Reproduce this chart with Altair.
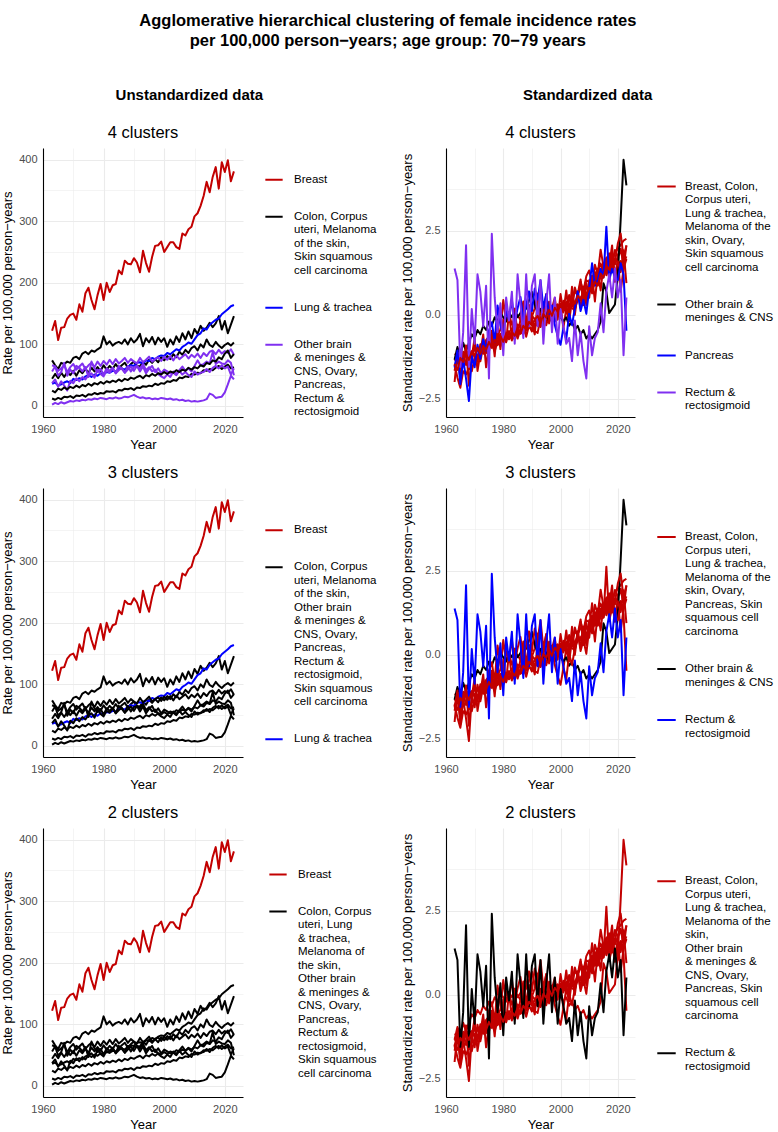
import altair as alt
import pandas as pd

FONT = "Liberation Sans"

YEARS = list(range(1963, 2024))

# Female incidence per 100,000 person-years, age 70-79, one value per year 1963-2023
BREAST = [122, 138, 107, 127, 128, 142, 148, 150, 140, 165,
          153, 183, 192, 172, 157, 180, 198, 172, 200, 185,
          196, 198, 220, 214, 236, 231, 230, 240, 233, 217,
          252, 232, 218, 242, 260, 261, 267, 250, 258, 266,
          266, 258, 255, 280, 277, 287, 291, 308, 313, 325,
          341, 364, 347, 372, 388, 353, 396, 380, 399, 365,
          381]
COLON = [74, 66, 60, 70, 68, 72, 70, 78, 80, 76,
         85, 88, 84, 90, 88, 92, 95, 113, 100, 105,
         98, 102, 104, 101, 108, 100, 110, 103, 108, 117,
         97, 110, 103, 112, 100, 111, 104, 110, 96, 108,
         100, 113, 104, 118, 108, 121, 110, 125, 117, 130,
         122, 127, 135, 128, 134, 146, 124, 138, 118, 132,
         146]
CORPUS_UTERI = [44, 52, 45, 54, 47, 55, 50, 57, 49, 58,
                53, 60, 54, 62, 56, 63, 57, 66, 59, 65,
                60, 68, 61, 66, 70, 62, 68, 72, 65, 64,
                72, 67, 75, 70, 76, 71, 79, 74, 81, 76,
                84, 79, 88, 83, 91, 86, 94, 97, 90, 100,
                95, 108, 99, 96, 104, 98, 94, 99, 102, 98,
                103]
LUNG_TRACHEA = [36, 38, 33, 35, 38, 40, 37, 44, 42, 45,
                43, 48, 50, 47, 51, 49, 53, 52, 55, 54,
                57, 56, 60, 61, 59, 64, 66, 65, 70, 71,
                69, 74, 73, 78, 76, 80, 82, 81, 86, 84,
                88, 92, 90, 96, 99, 103, 101, 108, 115, 118,
                126, 124, 132, 136, 140, 142, 149, 153, 157, 162,
                164]
MELANOMA = [12, 10, 13, 11, 15, 14, 16, 13, 17, 16,
            18, 15, 19, 18, 21, 19, 21, 20, 24, 23,
            24, 22, 26, 25, 28, 27, 29, 26, 30, 29,
            32, 31, 33, 32, 36, 34, 37, 36, 40, 39,
            42, 41, 46, 45, 48, 47, 52, 51, 54, 53,
            58, 57, 60, 58, 62, 65, 60, 64, 67, 61,
            63]
OTHER_BRAIN = [2, 5, 3, 6, 4, 6, 8, 7, 9, 8,
               10, 9, 11, 10, 12, 11, 13, 12, 11, 13,
               12, 14, 12, 13, 15, 14, 16, 18, 15, 13,
               14, 12, 13, 11, 12, 11, 13, 12, 11, 12,
               10, 11, 9, 10, 8, 9, 7, 8, 7, 8,
               9, 11, 20, 18, 13, 14, 15, 22, 35, 49,
               43]
OVARY = [56, 64, 57, 61, 66, 55, 63, 68, 59, 64,
         69, 60, 66, 70, 63, 72, 65, 73, 67, 75,
         68, 76, 69, 73, 78, 70, 76, 72, 69, 78,
         71, 75, 80, 72, 76, 79, 73, 80, 75, 81,
         74, 82, 76, 80, 84, 77, 83, 79, 85, 78,
         86, 81, 88, 90, 84, 91, 85, 89, 86, 92,
         83]
PANCREAS = [37, 43, 31, 40, 33, 25, 41, 37, 45, 40,
            47, 43, 50, 53, 46, 59, 52, 48, 57, 54,
            61, 53, 58, 62, 54, 59, 64, 57, 65, 61,
            68, 58, 63, 56, 59, 52, 48, 45, 51, 47,
            56, 52, 58, 64, 57, 61, 56, 65, 74, 66,
            68, 72, 69, 87, 68, 72, 69, 68, 74, 70,
            50]
RECTUM = [66, 64, 49, 55, 70, 49, 59, 53, 65, 62,
          56, 63, 47, 72, 61, 55, 60, 51, 61, 57,
          62, 53, 65, 60, 54, 65, 56, 63, 65, 56,
          64, 53, 60, 65, 55, 61, 53, 59, 56, 53,
          54, 50, 57, 51, 55, 50, 47, 56, 51, 54,
          55, 60, 55, 62, 65, 61, 66, 61, 64, 51,
          61]
SKIN_SCC = [25, 22, 28, 26, 30, 27, 31, 29, 33, 30,
            34, 32, 36, 33, 37, 35, 39, 36, 40, 38,
            41, 39, 43, 40, 44, 42, 46, 44, 47, 49,
            45, 50, 48, 52, 49, 53, 51, 55, 52, 56,
            54, 58, 55, 59, 57, 62, 59, 63, 61, 66,
            64, 70, 68, 74, 72, 79, 76, 85, 90, 78,
            84]

SITES = {
    "Breast": BREAST,
    "Colon": COLON,
    "Corpus uteri": CORPUS_UTERI,
    "Lung & trachea": LUNG_TRACHEA,
    "Melanoma of the skin": MELANOMA,
    "Other brain & meninges & CNS": OTHER_BRAIN,
    "Ovary": OVARY,
    "Pancreas": PANCREAS,
    "Rectum & rectosigmoid": RECTUM,
    "Skin squamous cell carcinoma": SKIN_SCC,
}

RED, BLACK, BLUE, PURPLE = "#C20000", "#000000", "#0000FF", "#8030F0"

# Cluster memberships: (legend text with "|" line breaks, colour, member sites)
CLUSTERS = {
    "u4": [
        ("Breast", RED, ["Breast"]),
        ("Colon, Corpus|uteri, Melanoma|of the skin,|Skin squamous|cell carcinoma", BLACK,
         ["Colon", "Corpus uteri", "Melanoma of the skin", "Skin squamous cell carcinoma"]),
        ("Lung & trachea", BLUE, ["Lung & trachea"]),
        ("Other brain|& meninges &|CNS, Ovary,|Pancreas,|Rectum &|rectosigmoid", PURPLE,
         ["Other brain & meninges & CNS", "Ovary", "Pancreas", "Rectum & rectosigmoid"]),
    ],
    "u3": [
        ("Breast", RED, ["Breast"]),
        ("Colon, Corpus|uteri, Melanoma|of the skin,|Other brain|& meninges &|CNS, Ovary,|Pancreas,|Rectum &|rectosigmoid,|Skin squamous|cell carcinoma", BLACK,
         ["Colon", "Corpus uteri", "Melanoma of the skin", "Other brain & meninges & CNS",
          "Ovary", "Pancreas", "Rectum & rectosigmoid", "Skin squamous cell carcinoma"]),
        ("Lung & trachea", BLUE, ["Lung & trachea"]),
    ],
    "u2": [
        ("Breast", RED, ["Breast"]),
        ("Colon, Corpus|uteri, Lung|& trachea,|Melanoma of|the skin,|Other brain|& meninges &|CNS, Ovary,|Pancreas,|Rectum &|rectosigmoid,|Skin squamous|cell carcinoma", BLACK,
         ["Colon", "Corpus uteri", "Lung & trachea", "Melanoma of the skin",
          "Other brain & meninges & CNS", "Ovary", "Pancreas", "Rectum & rectosigmoid",
          "Skin squamous cell carcinoma"]),
    ],
    "s4": [
        ("Breast, Colon,|Corpus uteri,|Lung & trachea,|Melanoma of the|skin, Ovary,|Skin squamous|cell carcinoma", RED,
         ["Breast", "Colon", "Corpus uteri", "Lung & trachea", "Melanoma of the skin",
          "Ovary", "Skin squamous cell carcinoma"]),
        ("Other brain &|meninges & CNS", BLACK, ["Other brain & meninges & CNS"]),
        ("Pancreas", BLUE, ["Pancreas"]),
        ("Rectum &|rectosigmoid", PURPLE, ["Rectum & rectosigmoid"]),
    ],
    "s3": [
        ("Breast, Colon,|Corpus uteri,|Lung & trachea,|Melanoma of the|skin, Ovary,|Pancreas, Skin|squamous cell|carcinoma", RED,
         ["Breast", "Colon", "Corpus uteri", "Lung & trachea", "Melanoma of the skin",
          "Ovary", "Pancreas", "Skin squamous cell carcinoma"]),
        ("Other brain &|meninges & CNS", BLACK, ["Other brain & meninges & CNS"]),
        ("Rectum &|rectosigmoid", BLUE, ["Rectum & rectosigmoid"]),
    ],
    "s2": [
        ("Breast, Colon,|Corpus uteri,|Lung & trachea,|Melanoma of the|skin,|Other brain|& meninges &|CNS, Ovary,|Pancreas, Skin|squamous cell|carcinoma", RED,
         ["Breast", "Colon", "Corpus uteri", "Lung & trachea", "Melanoma of the skin",
          "Other brain & meninges & CNS", "Ovary", "Pancreas", "Skin squamous cell carcinoma"]),
        ("Rectum &|rectosigmoid", BLACK, ["Rectum & rectosigmoid"]),
    ],
}

rows = []
for site, values in SITES.items():
    for year, rate in zip(YEARS, values):
        row = {"site": site, "year": year, "rate": rate}
        for key, groups in CLUSTERS.items():
            for label, _, members in groups:
                if site in members:
                    row[key] = label
        rows.append(row)
DATA = pd.DataFrame(rows)

W_LEFT, W_RIGHT, H = 200, 189, 269
LABEL_SIZE, LINE_H, ROW_PAD = 11.5, 12.5, 21
GRID = "#EBEBEB"


def grid_width(test):
    return {"condition": {"test": test, "value": 1.1}, "value": 0.55}


def x_axis():
    return alt.Axis(
        values=list(range(1960, 2021, 10)),
        labelExpr="datum.value % 20 == 0 ? datum.label : ''",
        format="d", grid=True, gridColor=GRID,
        gridWidth=grid_width("datum.value % 20 == 0"),
        ticks=False, domainColor="black", domainWidth=1.1,
        labelColor="#4D4D4D", labelFontSize=11, labelPadding=6, labelFlush=False,
        title="Year", titleFontSize=13, titleFontWeight="normal", titleColor="black",
        titlePadding=4,
    )


def y_axis(standardized):
    if standardized:
        values = [-2.5, -1.25, 0, 1.25, 2.5, 3.75]
        test = "abs(datum.value % 2.5) < 1e-9"
        title = "Standardized rate per 100,000 person\u2212years"
        fmt = ".1f"
    else:
        values = list(range(0, 401, 50))
        test = "datum.value % 100 == 0"
        title = "Rate per 100,000 person\u2212years"
        fmt = "d"
    return alt.Axis(
        values=values, labelExpr=f"{test} ? datum.label : ''", format=fmt,
        grid=True, gridColor=GRID, gridWidth=grid_width(test),
        ticks=False, domainColor="black", domainWidth=1.1,
        labelColor="#4D4D4D", labelFontSize=11, labelPadding=6,
        title=title, titleFontSize=13, titleFontWeight="normal", titleColor="black",
        titlePadding=4,
    )


def panel(key, title, standardized, legend_dx):
    groups = CLUSTERS[key]
    labels = [g[0] for g in groups]
    colors = [g[1] for g in groups]
    n_lines = sum(len(lbl.split("|")) for lbl in labels)
    legend_h = n_lines * LINE_H + ROW_PAD * (len(labels) - 1)
    width = W_RIGHT if standardized else W_LEFT

    base = alt.Chart(DATA)
    if standardized:
        base = base.transform_joinaggregate(
            m="mean(rate)", s="stdev(rate)", groupby=["site"]
        ).transform_calculate(value="(datum.rate - datum.m) / datum.s")
        y_domain = [-3.05, 4.97]
    else:
        base = base.transform_calculate(value="datum.rate")
        y_domain = [-18, 419]

    sym = 340 if standardized else 300
    gap = 8 if standardized else 10
    return base.mark_line(strokeWidth=2, strokeJoin="round").encode(
        x=alt.X("year:Q", scale=alt.Scale(domain=[1960, 2026], nice=False, zero=False),
                axis=x_axis()),
        y=alt.Y("value:Q", scale=alt.Scale(domain=y_domain, nice=False, zero=False),
                axis=y_axis(standardized)),
        color=alt.Color(
            f"{key}:N",
            scale=alt.Scale(domain=labels, range=colors),
            legend=alt.Legend(
                orient="none", legendX=width + legend_dx, legendY=(H - legend_h) / 2,
                title=None, symbolType="stroke", symbolSize=sym, symbolStrokeWidth=2,
                labelExpr="split(datum.label, '|')", labelFontSize=LABEL_SIZE,
                labelColor="black", labelLimit=300, labelOffset=gap,
                rowPadding=ROW_PAD, padding=0,
            ),
        ),
        detail="site:N",
    ).properties(
        width=width, height=H,
        title=alt.TitleParams(title, fontSize=16.5, fontWeight="normal", anchor="middle",
                              frame="group", offset=7, color="black"),
    )


def column(heading, standardized, prefix, dxs):
    return alt.vconcat(
        panel(prefix + "4", "4 clusters", standardized, dxs[0]),
        panel(prefix + "3", "3 clusters", standardized, dxs[1]),
        panel(prefix + "2", "2 clusters", standardized, dxs[2]),
        spacing=12,
        title=alt.TitleParams(heading, fontSize=15, fontWeight="bold", anchor="middle",
                              offset=21, color="black"),
    ).resolve_scale(color="independent", x="independent", y="independent")


left = column("Unstandardized data", False, "u", [21, 21, 25])
right = column("Standardized data", True, "s", [21, 21, 21])

chart = alt.hconcat(left, right, spacing=22).resolve_scale(
    color="independent", x="independent", y="independent"
).properties(
    title=alt.TitleParams(
        ["Agglomerative hierarchical clustering of female incidence rates",
         "per 100,000 person\u2212years; age group: 70\u221279 years"],
        fontSize=16.5, fontWeight="bold", anchor="middle", lineHeight=20, offset=39,
        color="black",
    ),
    padding={"left": 1, "top": 12, "right": 0, "bottom": 0},
    background="white",
).configure(font=FONT).configure_view(stroke="transparent")

chart.save("out.html", embed_options={"renderer": "svg", "actions": False})
